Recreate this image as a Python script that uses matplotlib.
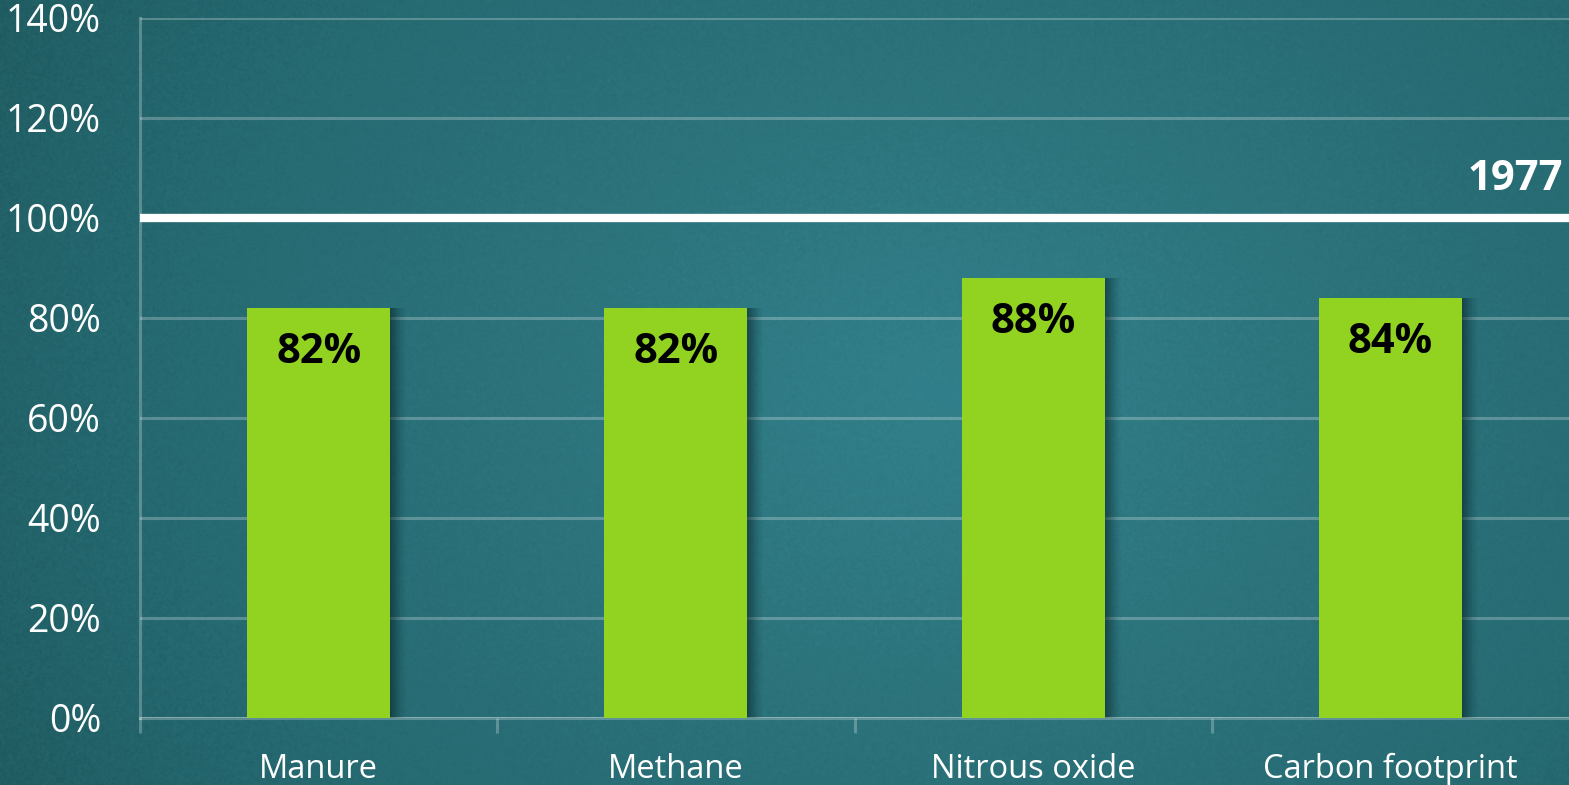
import numpy as np
import matplotlib.pyplot as plt
from matplotlib.colors import LinearSegmentedColormap
from matplotlib.ticker import FuncFormatter

categories = ['Manure', 'Methane', 'Nitrous oxide', 'Carbon footprint']
values = [0.82, 0.82, 0.88, 0.84]
labels = ['82%', '82%', '88%', '84%']
baseline = 1.0
baseline_label = '1977'
yticks = [0, 0.2, 0.4, 0.6, 0.8, 1.0, 1.2, 1.4]

plt.rcParams['font.family'] = ['Open Sans', 'DejaVu Sans']

fig = plt.figure(figsize=(15.69, 7.85), dpi=100)

# chalkboard style background: teal gradient with a light grain
bg = fig.add_axes([0, 0, 1, 1], zorder=-10)
yy, xx = np.mgrid[0:1:400j, 0:1:800j]
r = np.sqrt(((xx - 0.6) / 0.85) ** 2 + ((yy - 0.5) / 1.3) ** 2)
grain = np.random.default_rng(7).normal(0, 0.04, r.shape)
board = LinearSegmentedColormap.from_list(
    'board', ['#32808b', '#2c737b', '#256870', '#1c5558'])
bg.imshow(np.clip(r + grain, 0, 1), cmap=board, aspect='auto',
          extent=[0, 1, 0, 1], interpolation='bilinear')
bg.set_axis_off()

ax = fig.add_axes([140 / 1569, 1 - 718 / 785, 1 - 140 / 1569, 700 / 785])
ax.patch.set_alpha(0)

x = np.arange(len(categories))
width = 0.4
line_col = (1, 1, 1, 0.25)

# soft shadow to the right of each bar
for k, a in zip(range(1, 9), np.linspace(0.16, 0.03, 8)):
    ax.bar(x + k * 0.0056, values, width, color='#0b2a2e', alpha=a,
           zorder=2)
ax.bar(x, values, width, color='#92d322', zorder=3)

for xi, v, lab in zip(x, values, labels):
    ax.annotate(lab, (xi, v), xytext=(0, -17), textcoords='offset points',
                ha='center', va='top', fontsize=30, fontweight='bold',
                color='black', zorder=4)

ax.axhline(baseline, color='white', lw=6, zorder=5)
ax.text(0.996, baseline + 0.035, baseline_label, transform=ax.get_yaxis_transform(),
        ha='right', va='bottom', fontsize=30, fontweight='bold', color='white')

ax.set_ylim(0, 1.4)
ax.set_xlim(-0.5, len(categories) - 0.5)
ax.set_yticks(yticks)
ax.yaxis.set_major_formatter(FuncFormatter(lambda v, p: f'{v:.0%}'))
ax.grid(axis='y', color='white', alpha=0.25, lw=2.2, zorder=1)
ax.tick_params(axis='y', length=0, pad=28, labelsize=27, labelcolor='white')

ax.set_xticks(x)
ax.set_xticklabels(categories)
ax.set_xticks(np.arange(len(categories)) - 0.5, minor=True)
ax.tick_params(axis='x', which='major', length=0, pad=25, labelsize=23.5,
               labelcolor='white')
ax.tick_params(axis='x', which='minor', length=11, width=2.2, color=line_col)

for s in ['top', 'right']:
    ax.spines[s].set_visible(False)
for s in ['left', 'bottom']:
    ax.spines[s].set_color(line_col)
    ax.spines[s].set_linewidth(2.2)
ax.spines['left'].set_bounds(0, 1.4)

fig.savefig('out.png', dpi=100)
